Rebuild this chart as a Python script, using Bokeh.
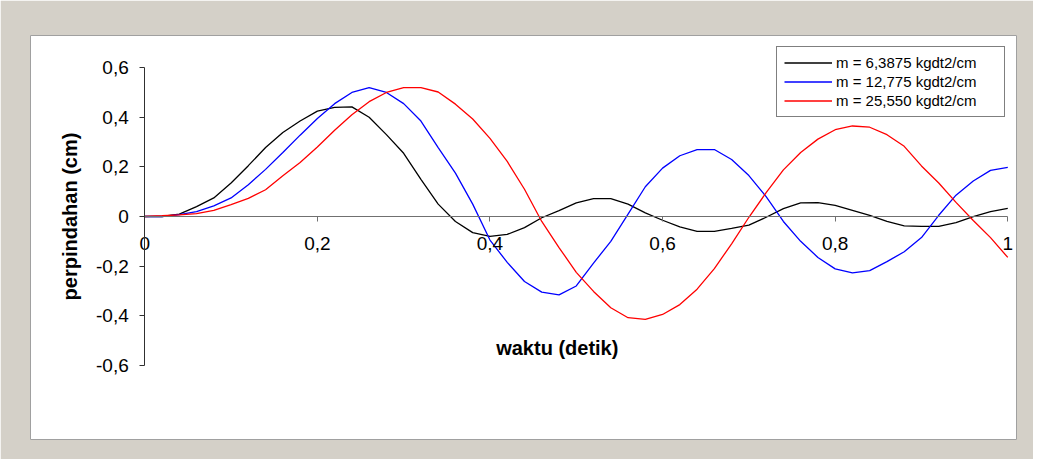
from bokeh.plotting import figure
from bokeh.models import Range1d, FixedTicker, Label, LinearAxis
from bokeh.embed import file_html
from bokeh.resources import INLINE

# time (detik)
t = [0.00, 0.02, 0.04, 0.06, 0.08, 0.10, 0.12, 0.14, 0.16, 0.18,
     0.20, 0.22, 0.24, 0.26, 0.28, 0.30, 0.32, 0.34, 0.36, 0.38,
     0.40, 0.42, 0.44, 0.46, 0.48, 0.50, 0.52, 0.54, 0.56, 0.58,
     0.60, 0.62, 0.64, 0.66, 0.68, 0.70, 0.72, 0.74, 0.76, 0.78,
     0.80, 0.82, 0.84, 0.86, 0.88, 0.90, 0.92, 0.94, 0.96, 0.98, 1.00]

# m = 6,3875
black = [0.000, 0.000, 0.010, 0.040, 0.075, 0.135, 0.205, 0.278, 0.339, 0.385,
         0.425, 0.440, 0.442, 0.400, 0.330, 0.255, 0.150, 0.050, -0.020, -0.065,
         -0.080, -0.072, -0.045, -0.005, 0.024, 0.055, 0.072, 0.072, 0.050, 0.015,
         -0.015, -0.042, -0.060, -0.060, -0.048, -0.035, -0.003, 0.032, 0.055, 0.056,
         0.045, 0.025, 0.005, -0.020, -0.038, -0.040, -0.040, -0.025, 0.000, 0.020, 0.033]

# m = 12,775
blue = [0.000, 0.000, 0.008, 0.020, 0.043, 0.075, 0.128, 0.190, 0.258, 0.328,
        0.395, 0.455, 0.500, 0.520, 0.500, 0.455, 0.385, 0.278, 0.175, 0.050,
        -0.095, -0.185, -0.262, -0.305, -0.316, -0.280, -0.188, -0.100, 0.010, 0.120,
        0.195, 0.245, 0.270, 0.270, 0.230, 0.165, 0.080, -0.020, -0.100, -0.165,
        -0.211, -0.227, -0.218, -0.182, -0.142, -0.085, 0.005, 0.086, 0.143, 0.186, 0.198]

# m = 25,550
red = [0.000, 0.003, 0.007, 0.012, 0.025, 0.048, 0.073, 0.108, 0.164, 0.218,
       0.280, 0.348, 0.410, 0.463, 0.500, 0.520, 0.520, 0.502, 0.453, 0.393,
       0.315, 0.222, 0.110, -0.020, -0.125, -0.225, -0.302, -0.368, -0.408, -0.415,
       -0.395, -0.355, -0.293, -0.210, -0.110, -0.003, 0.096, 0.188, 0.258, 0.312,
       0.350, 0.365, 0.360, 0.330, 0.283, 0.204, 0.135, 0.057, -0.016, -0.085, -0.165]

series_names = ["m = 6,3875 kgdt2/cm", "m = 12,775 kgdt2/cm", "m = 25,550 kgdt2/cm"]
series_colors = ["#000000", "#0000ff", "#ff0000"]

x_ticks = [0, 0.2, 0.4, 0.6, 0.8, 1]
x_tick_labels = ["0", "0,2", "0,4", "0,6", "0,8", "1"]
y_ticks = [-0.6, -0.4, -0.2, 0, 0.2, 0.4, 0.6]
y_tick_labels = ["-0,6", "-0,4", "-0,2", "0", "0,2", "0,4", "0,6"]

FONT = "Liberation Sans"

p = figure(width=1033, height=459,
           x_range=Range1d(-0.1324, 1.0101), y_range=Range1d(-0.899, 0.7298),
           output_backend="svg", toolbar_location=None,
           x_axis_type=None, y_axis_type=None,
           min_border_left=30, min_border_right=17, min_border_top=35, min_border_bottom=20,
           border_fill_color="#d4d0c8", background_fill_color="white",
           outline_line_color="#a0a0a0", outline_line_width=1)
p.grid.visible = False

xaxis = LinearAxis(fixed_location=0, bounds=(0, 1),
                   ticker=FixedTicker(ticks=x_ticks),
                   major_label_overrides={v: s for v, s in zip(x_ticks, x_tick_labels)})
yaxis = LinearAxis(fixed_location=0, bounds=(-0.6, 0.6),
                   ticker=FixedTicker(ticks=y_ticks),
                   major_label_overrides={v: s for v, s in zip(y_ticks, y_tick_labels)},
                   axis_label="perpindahan (cm)")
for ax in (xaxis, yaxis):
    ax.major_tick_in = 0
    ax.major_tick_out = 5
    ax.minor_tick_line_color = None
    ax.major_label_text_font = FONT
    ax.major_label_text_font_size = "19px"
    ax.major_label_text_color = "#000000"
xaxis.axis_line_color = "#707070"
xaxis.major_tick_line_color = "#707070"
yaxis.axis_line_color = "#303030"
yaxis.major_tick_line_color = "#303030"
xaxis.major_label_standoff = 15
yaxis.major_label_standoff = 11
yaxis.axis_label_text_font = FONT
yaxis.axis_label_text_font_style = "bold"
yaxis.axis_label_text_font_size = "20px"
yaxis.axis_label_text_color = "#000000"
yaxis.axis_label_standoff = 12
p.add_layout(xaxis, "below")
p.add_layout(yaxis, "left")

for ys, name, col in zip([black, blue, red], series_names, series_colors):
    p.line(t, ys, line_color=col, line_width=1.3, legend_label=name)

p.add_layout(Label(x=0.478, y=-0.529, text="waktu (detik)", text_align="center",
                   text_baseline="middle", text_font=FONT, text_font_style="bold",
                   text_font_size="20px", text_color="#000000"))

lg = p.legend[0]
lg.location = "top_right"
lg.margin = 11
lg.padding = 7
lg.spacing = 2
lg.glyph_width = 48
lg.glyph_height = 17
lg.label_height = 17
lg.label_standoff = 4
lg.label_width = 161
lg.label_text_font = FONT
lg.label_text_font_size = "15px"
lg.label_text_color = "#000000"
lg.border_line_color = "#000000"
lg.border_line_width = 1
lg.background_fill_color = "white"
lg.background_fill_alpha = 1.0

open("out.html", "w").write(file_html(p, INLINE))
